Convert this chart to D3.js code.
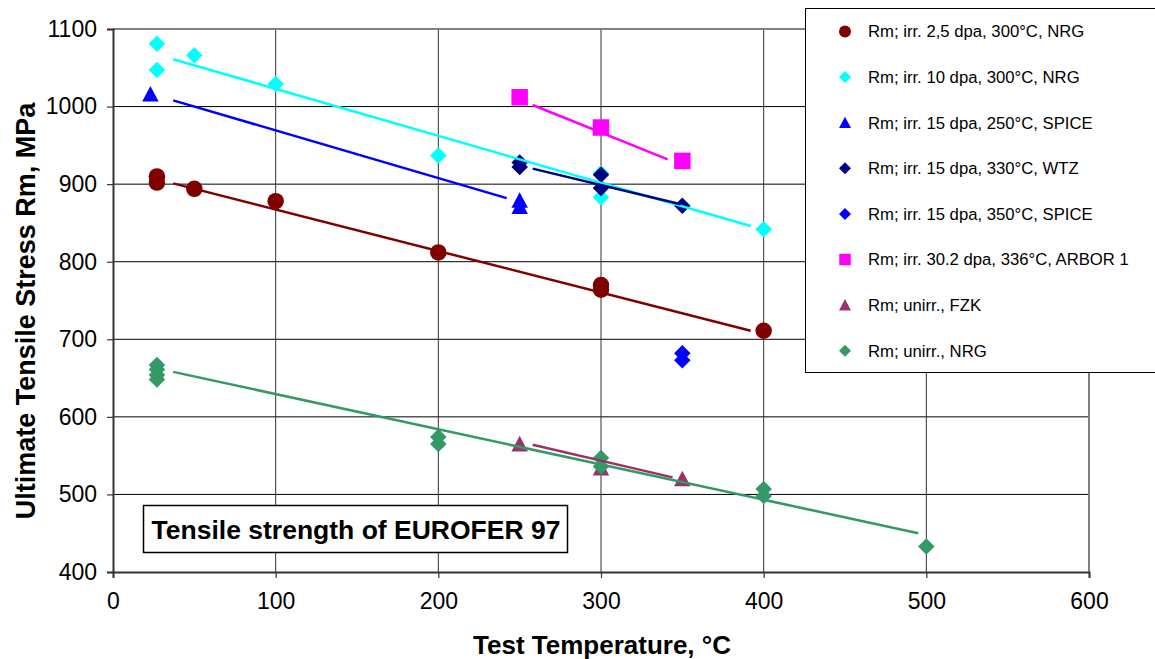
<!DOCTYPE html>
<html><head><meta charset="utf-8">
<script src="https://cdn.jsdelivr.net/npm/d3@7"></script>
<style>
html,body{margin:0;padding:0;background:#fff;}
svg{display:block;font-family:"Liberation Sans",Arial,sans-serif;}
</style></head>
<body><svg id="c" width="1155" height="659"></svg>
<script>
// ---- data ----
const xTicks = [0, 100, 200, 300, 400, 500, 600];
const yTicks = [400, 500, 600, 700, 800, 900, 1000, 1100];

const irr25T = [27, 27, 50, 100, 200, 300, 300, 400];
const irr25V = [910, 902, 894, 878, 812, 770, 764, 711];
const irr10T = [27, 27, 50, 100, 200, 300, 300, 400];
const irr10V = [1081, 1047, 1066, 1029, 937, 914, 883, 842];
const spice250T = [23, 250, 250];
const spice250V = [1016, 879, 871];
const wtzT = [250, 250, 300, 300, 350];
const wtzV = [928, 922, 912, 895, 872];
const spice350T = [350, 350];
const spice350V = [682, 673];
const arborT = [250, 300, 350];
const arborV = [1012, 973, 930];
const fzkT = [250, 300, 350];
const fzkV = [565, 534, 520];
const nrgT = [27, 27, 27, 27, 200, 200, 300, 300, 400, 400, 500];
const nrgV = [667, 661, 654, 648, 574, 565, 547, 536, 507, 498, 433];

// trend line end points
const trend25T = [37, 392],  trend25V = [901, 711];
const trend10T = [37, 392],  trend10V = [1061, 846];
const trendS250T = [37, 242], trendS250V = [1008, 882];
const trendWtzT = [258, 349], trendWtzV = [920, 874];
const trendArborT = [258, 341], trendArborV = [1002, 932];
const trendFzkT = [258, 344], trendFzkV = [564, 522];
const trendNrgT = [37, 495], trendNrgV = [658, 450];

const seriesNames = [
  "Rm; irr. 2,5 dpa, 300°C, NRG",
  "Rm; irr. 10 dpa, 300°C, NRG",
  "Rm; irr. 15 dpa, 250°C, SPICE",
  "Rm; irr. 15 dpa, 330°C, WTZ",
  "Rm; irr. 15 dpa, 350°C, SPICE",
  "Rm; irr. 30.2 dpa, 336°C, ARBOR 1",
  "Rm; unirr., FZK",
  "Rm; unirr., NRG"
];
const seriesColors = ["#800000", "#00FFFF", "#0000FF", "#000080", "#0000FF", "#FF00FF", "#993366", "#339966"];
const seriesShapes = ["circle", "diamond", "triangle", "diamond", "diamond", "square", "triangle", "diamond"];

const series = [
  {t: irr25T, v: irr25V, lt: trend25T, lv: trend25V},
  {t: irr10T, v: irr10V, lt: trend10T, lv: trend10V},
  {t: spice250T, v: spice250V, lt: trendS250T, lv: trendS250V},
  {t: wtzT, v: wtzV, lt: trendWtzT, lv: trendWtzV},
  {t: spice350T, v: spice350V, lt: null, lv: null},
  {t: arborT, v: arborV, lt: trendArborT, lv: trendArborV},
  {t: fzkT, v: fzkV, lt: trendFzkT, lv: trendFzkV},
  {t: nrgT, v: nrgV, lt: trendNrgT, lv: trendNrgV}
];

// ---- layout ----
const L = 113, R = 1089, T = 29, B = 572;
const svg = d3.select("#c");
const x = d3.scaleLinear().domain([0, 600]).range([L, R]);
const y = d3.scaleLinear().domain([400, 1100]).range([B, T]);

// gridlines
svg.append("g").selectAll("line").data(yTicks.filter(d => d > 400 && d < 1100)).join("line")
  .attr("x1", L).attr("x2", R).attr("y1", d => y(d)).attr("y2", d => y(d))
  .attr("stroke", "#000").attr("stroke-width", 1);
svg.append("g").selectAll("line").data(xTicks.filter(d => d > 0 && d < 600)).join("line")
  .attr("y1", T).attr("y2", B).attr("x1", d => x(d)).attr("x2", d => x(d))
  .attr("stroke", "#333").attr("stroke-width", 1);
// plot border (top/right)
svg.append("path").attr("d", `M${L},${T}H${R}V${B}`).attr("fill", "none")
  .attr("stroke", "#808080").attr("stroke-width", 2);

// axes
const yAxis = d3.axisLeft(y).tickValues(yTicks).tickSize(6).tickPadding(10).tickFormat(d3.format("d"));
const gy = svg.append("g").attr("transform", `translate(${L},0)`).call(yAxis);
const xAxis = d3.axisBottom(x).tickValues(xTicks).tickSize(6).tickPadding(15).tickFormat(d3.format("d"));
const gx = svg.append("g").attr("transform", `translate(0,${B})`).call(xAxis);
[gx, gy].forEach(g => {
  g.select(".domain").attr("stroke", "#333").attr("stroke-width", 2);
  g.selectAll(".tick line").attr("stroke", "#333").attr("stroke-width", 1.2);
  g.selectAll(".tick text").attr("font-size", 23).attr("fill", "#000")
    .attr("font-family", "'Liberation Sans', Arial, sans-serif");
});

// markers
function shapePath(shape, s) {
  const h = s / 2;
  if (shape === "diamond") return `M0,${-h}L${h},0L0,${h}L${-h},0Z`;
  if (shape === "triangle") return `M0,${-h}L${h},${h * 0.9}L${-h},${h * 0.9}Z`;
  if (shape === "square") return `M${-h},${-h}H${h}V${h}H${-h}Z`;
  return d3.arc()({innerRadius: 0, outerRadius: h, startAngle: 0, endAngle: 2 * Math.PI});
}
const mk = svg.append("g");
series.forEach((s, i) => {
  const pts = s.t.map((t, j) => [t, s.v[j]]);
  mk.append("g").selectAll("path").data(pts).join("path")
    .attr("d", shapePath(seriesShapes[i], 16.5))
    .attr("transform", d => `translate(${x(d[0])},${y(d[1])})`)
    .attr("fill", seriesColors[i]);
});
// trend lines
const line = d3.line().x(d => x(d[0])).y(d => y(d[1]));
series.forEach((s, i) => {
  if (!s.lt) return;
  svg.append("path").datum(s.lt.map((t, j) => [t, s.lv[j]]))
    .attr("d", line).attr("fill", "none").attr("stroke", seriesColors[i]).attr("stroke-width", 2.5);
});

// axis titles
svg.append("text").attr("x", 602).attr("y", 654).attr("text-anchor", "middle")
  .attr("font-weight", "bold").attr("font-size", 26).text("Test Temperature, °C");
svg.append("text").attr("transform", "translate(35,311) rotate(-90)").attr("text-anchor", "middle")
  .attr("font-weight", "bold").attr("font-size", 27).text("Ultimate Tensile Stress Rm, MPa");

// inner title box
svg.append("rect").attr("x", 143.5).attr("y", 505.5).attr("width", 424).attr("height", 47)
  .attr("fill", "#fff").attr("stroke", "#000").attr("stroke-width", 1.5);
svg.append("text").attr("x", 356).attr("y", 539).attr("text-anchor", "middle")
  .attr("font-weight", "bold").attr("font-size", 26.5).text("Tensile strength of EUROFER 97");

// legend
const lg = svg.append("g");
lg.append("rect").attr("x", 805.5).attr("y", 8.5).attr("width", 360).attr("height", 364)
  .attr("fill", "#fff").attr("stroke", "#000").attr("stroke-width", 1);
const rowY = d3.scaleLinear().domain([0, 7]).range([31.5, 350.7]);
seriesNames.forEach((n, i) => {
  const cy = rowY(i);
  lg.append("path").attr("d", shapePath(seriesShapes[i], seriesShapes[i] === "square" ? 11.5 : 12))
    .attr("transform", `translate(845,${cy})`).attr("fill", seriesColors[i]);
  lg.append("text").attr("x", 868).attr("y", cy).attr("dy", "0.35em")
    .attr("font-size", 16.7).text(n);
});
</script></body></html>
